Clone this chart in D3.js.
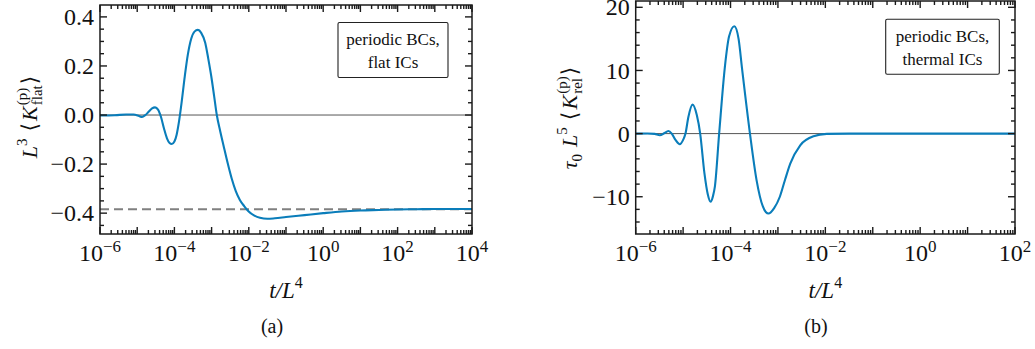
<!DOCTYPE html>
<html><head><meta charset="utf-8">
<script src="https://cdn.jsdelivr.net/npm/d3@7"></script>
<style>body{margin:0;background:#fff} svg{display:block}</style>
</head><body><svg id="c" width="1035" height="349"></svg>
<script>
// ---------- data ----------
const leftLogT = [-6.0,-5.6,-5.3,-5.1,-4.95,-4.87,-4.78,-4.70,-4.60,-4.52,-4.44,-4.36,-4.28,-4.20,-4.13,-4.07,-4.00,-3.94,-3.88,-3.82,-3.72,-3.64,-3.55,-3.46,-3.37,-3.28,-3.17,-3.09,-3.01,-2.93,-2.86,-2.77,-2.68,-2.57,-2.46,-2.35,-2.24,-2.12,-2.01,-1.85,-1.70,-1.50,-1.30,-1.0,-0.5,0.0,0.5,1.0,1.5,2.0,2.5,3.0,4.0];
const leftValues = [-0.002,-0.001,0.002,0.002,-0.004,-0.008,0.000,0.012,0.027,0.031,0.022,-0.008,-0.055,-0.095,-0.114,-0.118,-0.108,-0.080,-0.030,0.035,0.159,0.245,0.310,0.340,0.347,0.335,0.294,0.230,0.159,0.075,0.000,-0.065,-0.124,-0.195,-0.259,-0.310,-0.346,-0.372,-0.392,-0.410,-0.419,-0.423,-0.421,-0.416,-0.408,-0.400,-0.393,-0.389,-0.387,-0.385,-0.384,-0.383,-0.383];
const leftAsymptote = -0.384;

const rightLogT = [-6.0,-5.75,-5.6,-5.49,-5.40,-5.31,-5.24,-5.16,-5.07,-5.00,-4.95,-4.89,-4.80,-4.71,-4.64,-4.55,-4.48,-4.42,-4.37,-4.33,-4.24,-4.12,-4.03,-3.92,-3.83,-3.76,-3.59,-3.45,-3.32,-3.20,-3.08,-2.96,-2.85,-2.74,-2.53,-2.25,-1.97,-1.5,2.0];
const rightValues = [0,0.02,-0.05,-0.27,0.05,0.42,0.0,-1.0,-1.69,-1.0,0.0,2.6,4.59,2.9,0,-6.3,-9.6,-10.8,-9.9,-8.4,0,10.5,15.4,17.0,15.0,10.5,0,-7.4,-11.5,-12.66,-11.8,-10.0,-7.3,-4.75,-1.85,-0.42,-0.05,0,0];

const leftYTicks = [-0.4,-0.2,0.0,0.2,0.4];
const leftYTickLabels = ["−0.4","−0.2","0.0","0.2","0.4"];
const leftXTickExps = [-6,-4,-2,0,2,4];
const rightYTicks = [-10,0,10,20];
const rightYTickLabels = ["−10","0","10","20"];
const rightXTickExps = [-6,-4,-2,0,2];
const legendLeft = ["periodic BCs,","flat ICs"];
const legendRight = ["periodic BCs,","thermal ICs"];

// ---------- drawing ----------
const FONT = '"Liberation Serif","DejaVu Serif",serif';
const svg = d3.select("#c");

function mathText(parent, parts) {
  const g = parent.append("g");
  let x = 0, pending = 0;
  parts.forEach(p => {
    if (p.gap) { x += p.gap; return; }
    const t = g.append("text").attr("x", x).attr("y", p.shift || 0)
      .attr("font-size", p.size).attr("font-family", FONT)
      .attr("font-style", p.italic ? "italic" : "normal")
      .attr("fill", "#111").text(p.t);
    const w = t.node().getComputedTextLength();
    if (p.stack) { pending = w; } else { x += Math.max(w, pending); pending = 0; }
  });
  return {g, width: x};
}

function panel(cfg) {
  const [X0, X1] = cfg.xr, [Y0, Y1] = cfg.yr;
  const x = d3.scaleLog().domain(cfg.xd).range([X0, X1]);
  const y = d3.scaleLinear().domain(cfg.yd).range([Y1, Y0]);
  const g = svg.append("g");
  const cid = "clip" + cfg.id;
  svg.append("clipPath").attr("id", cid).append("rect")
    .attr("x", X0).attr("y", Y0).attr("width", X1 - X0).attr("height", Y1 - Y0);

  g.append("line").attr("x1", X0).attr("x2", X1).attr("y1", y(0)).attr("y2", y(0))
    .attr("stroke", "#555").attr("stroke-width", 1);
  if (cfg.asym !== undefined) {
    g.append("line").attr("x1", X0).attr("x2", X1).attr("y1", y(cfg.asym)).attr("y2", y(cfg.asym))
      .attr("stroke", "#808080").attr("stroke-width", 2).attr("stroke-dasharray", "9,5");
  }
  const data = cfg.logT.map((e, i) => [Math.pow(10, e), cfg.vals[i]]);
  const line = d3.line().x(d => x(d[0])).y(d => y(d[1])).curve(d3.curveMonotoneX);
  g.append("path").attr("d", line(data)).attr("clip-path", `url(#${cid})`)
    .attr("fill", "none").attr("stroke", "#0a7dba").attr("stroke-width", 2.1);

  const tk = g.append("g").attr("stroke", "#1a1a1a").attr("stroke-width", 1.4);
  const e0 = Math.round(Math.log10(cfg.xd[0])), e1 = Math.round(Math.log10(cfg.xd[1]));
  for (let e = e0; e <= e1; e++) {
    const v = Math.pow(10, e);
    [[Y1, -7], [Y0, 7]].forEach(([yy, L]) =>
      tk.append("line").attr("x1", x(v)).attr("x2", x(v)).attr("y1", yy).attr("y2", yy + L));
    if (e < e1) for (let k = 2; k <= 9; k++) {
      const m = k * v;
      [[Y1, -4], [Y0, 4]].forEach(([yy, L]) =>
        tk.append("line").attr("x1", x(m)).attr("x2", x(m)).attr("y1", yy).attr("y2", yy + L));
    }
  }
  const start = Math.ceil(cfg.yd[0] / cfg.yMinor);
  const end = Math.floor(cfg.yd[1] / cfg.yMinor);
  for (let i = start; i <= end; i++) {
    const v = i * cfg.yMinor;
    const major = cfg.yTicks.some(t => Math.abs(t - v) < 1e-9);
    const L = major ? 7 : 4;
    [[X0, L], [X1, -L]].forEach(([xx, LL]) =>
      tk.append("line").attr("x1", xx).attr("x2", xx + LL).attr("y1", y(v)).attr("y2", y(v)));
  }

  g.append("rect").attr("x", X0).attr("y", Y0).attr("width", X1 - X0).attr("height", Y1 - Y0)
    .attr("fill", "none").attr("stroke", "#1a1a1a").attr("stroke-width", 1.5);

  cfg.yTicks.forEach((v, i) => {
    g.append("text").attr("x", X0 - 6).attr("y", y(v)).attr("dy", "0.34em")
      .attr("text-anchor", "end").attr("font-family", FONT).attr("font-size", 24)
      .attr("fill", "#111").text(cfg.yLabels[i]);
  });
  cfg.xTickExps.forEach(e => {
    const m = mathText(g, [{t: "10", size: 24}, {t: e < 0 ? "−" + (-e) : "" + e, size: 17, shift: -9.5}]);
    m.g.attr("transform", `translate(${x(Math.pow(10, e)) - m.width / 2},${Y1 + 27})`);
  });
  const xt = mathText(g, [{t: "t/L", size: 23, italic: true}, {t: "4", size: 16, shift: -10}]);
  xt.g.attr("transform", `translate(${(X0 + X1) / 2 - xt.width / 2},${Y1 + 64})`);
  g.append("text").attr("x", cfg.letterX).attr("y", Y1 + 99).attr("text-anchor", "middle")
    .attr("font-family", FONT).attr("font-size", 20).attr("fill", "#111").text(cfg.letter);
  const yt = mathText(g, cfg.yTitle);
  yt.g.attr("transform", `translate(${cfg.yTitlePos[0]},${cfg.yTitlePos[1]}) rotate(-90) translate(${-yt.width / 2},0)`);

  const [bx, by, bw, bh] = cfg.box;
  g.append("rect").attr("x", bx).attr("y", by).attr("width", bw).attr("height", bh).attr("rx", 1.5)
    .attr("fill", "#fff").attr("stroke", "#222").attr("stroke-width", 1.1);
  cfg.legend.forEach((s, i) => {
    g.append("text").attr("x", bx + bw / 2).attr("y", by + cfg.legBase + i * 23)
      .attr("text-anchor", "middle").attr("font-family", FONT).attr("font-size", 17)
      .attr("fill", "#111").text(s);
  });
}

panel({
  id: "a", xr: [100, 472], yr: [5, 234], xd: [1e-6, 1e4], yd: [-0.485, 0.4485],
  logT: leftLogT, vals: leftValues, asym: leftAsymptote,
  yTicks: leftYTicks, yLabels: leftYTickLabels, yMinor: 0.05, xTickExps: leftXTickExps,
  letter: "(a)", letterX: 272,
  yTitle: [{t: "L", size: 22, italic: true}, {t: "3", size: 15, shift: -10}, {gap: 7}, {t: "⟨", size: 22},
           {gap: 2}, {t: "K", size: 22, italic: true}, {gap: 1}, {t: "(p)", size: 15, shift: -10, stack: true},
           {t: "flat", size: 15, shift: 5}, {gap: 1}, {t: "⟩", size: 22}],
  yTitlePos: [37, 117],
  box: [338, 22.5, 110, 55], legend: legendLeft, legBase: 22.5
});
panel({
  id: "b", xr: [635.7, 1015], yr: [1, 234], xd: [1e-6, 1e2], yd: [-15.9, 21.0],
  logT: rightLogT, vals: rightValues,
  yTicks: rightYTicks, yLabels: rightYTickLabels, yMinor: 2, xTickExps: rightXTickExps,
  letter: "(b)", letterX: 816,
  yTitle: [{t: "τ", size: 22, italic: true}, {t: "0", size: 15, shift: 5}, {gap: 7}, {t: "L", size: 22, italic: true},
           {t: "5", size: 15, shift: -10}, {gap: 7}, {t: "⟨", size: 22},
           {gap: 2}, {t: "K", size: 22, italic: true}, {gap: 1}, {t: "(p)", size: 15, shift: -10, stack: true},
           {t: "rel", size: 15, shift: 5}, {gap: 1}, {t: "⟩", size: 22}],
  yTitlePos: [577, 118],
  box: [885.7, 19.3, 113.6, 55], legend: legendRight, legBase: 22.5
});
</script></body></html>
